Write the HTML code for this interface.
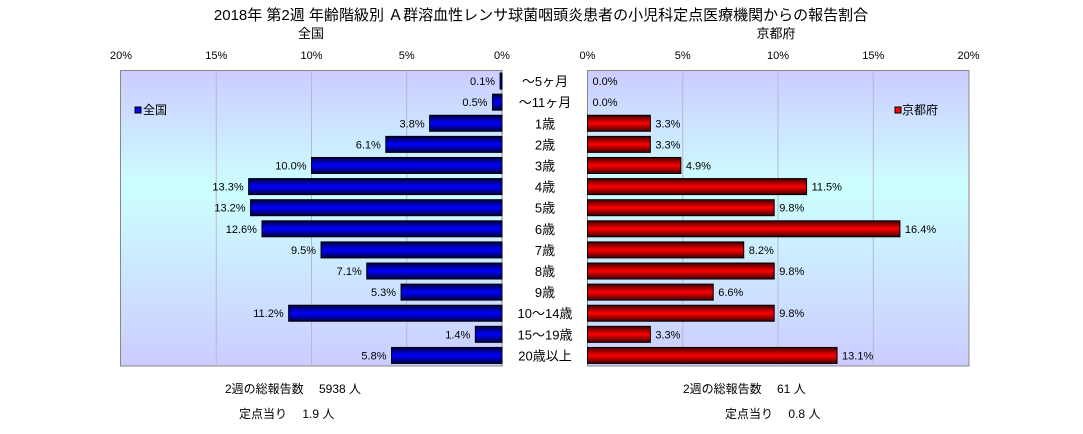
<!DOCTYPE html>
<html><head><meta charset="utf-8"><style>
body{margin:0;background:#fff;width:1083px;height:429px;overflow:hidden;font-family:"Liberation Sans","Noto Sans CJK JP",sans-serif;}
svg text{font-family:"Liberation Sans","Noto Sans CJK JP",sans-serif;}
</style></head><body>
<svg id="c" width="1083" height="429">
<defs>
<linearGradient id="bg" x1="0" y1="0" x2="0" y2="1">
<stop offset="0" stop-color="#ccccff"/><stop offset="0.4" stop-color="#ccffff"/><stop offset="1" stop-color="#ccccff"/></linearGradient>
<linearGradient id="gb" x1="0" y1="0" x2="0" y2="1">
<stop offset="0" stop-color="#000040"/><stop offset="0.5" stop-color="#0000ff"/><stop offset="1" stop-color="#000040"/></linearGradient>
<linearGradient id="gr" x1="0" y1="0" x2="0" y2="1">
<stop offset="0" stop-color="#400000"/><stop offset="0.5" stop-color="#ff0000"/><stop offset="1" stop-color="#400000"/></linearGradient>
</defs>
<text x="541" y="20" text-anchor="middle" font-size="15">2018年 第2週 年齢階級別 Ａ群溶血性レンサ球菌咽頭炎患者の小児科定点医療機関からの報告割合</text>
<text x="311" y="38" text-anchor="middle" font-size="13">全国</text>
<text x="776" y="38" text-anchor="middle" font-size="13">京都府</text>
<rect x="120.5" y="70.5" width="381.5" height="295.5" fill="url(#bg)" stroke="#888"/>
<rect x="587.5" y="70.5" width="381.5" height="295.5" fill="url(#bg)" stroke="#888"/>
<g id="grid"></g><g id="bars"></g><g id="labels"></g>
<rect x="135" y="107" width="6" height="6" fill="#0000ff" stroke="#000"/>
<text x="143" y="114" font-size="12">全国</text>
<rect x="895" y="107" width="6" height="6" fill="#ff0000" stroke="#000"/>
<text x="902" y="114" font-size="12">京都府</text>
<text x="225" y="393" font-size="12">2週の総報告数　 5938 人</text>
<text x="239" y="418" font-size="12">定点当り　 1.9 人</text>
<text x="683" y="393" font-size="12">2週の総報告数　 61 人</text>
<text x="725" y="418" font-size="12">定点当り　 0.8 人</text>
</svg>
<script>
const categories=["～5ヶ月","～11ヶ月","1歳","2歳","3歳","4歳","5歳","6歳","7歳","8歳","9歳","10～14歳","15～19歳","20歳以上"];
const nationalValues=[0.1,0.5,3.8,6.1,10.0,13.3,13.2,12.6,9.5,7.1,5.3,11.2,1.4,5.8];
const kyotoValues=[0.0,0.0,3.3,3.3,4.9,11.5,9.8,16.4,8.2,9.8,6.6,9.8,3.3,13.1];
const tickValues=[0,5,10,15,20];
const NS="http://www.w3.org/2000/svg";
const L0=502,R0=587.5,K=19.05,TOP=70.5,ROW=295.5/14,BH=16;
const xl=v=>L0-v*K, xr=v=>R0+v*K, yc=i=>TOP+ROW*(i+0.5);
function mk(tag,a,p){const e=document.createElementNS(NS,tag);for(const k in a)e.setAttribute(k,a[k]);document.getElementById(p).appendChild(e);return e;}
tickValues.forEach(t=>{
 if(t>0&&t<20){
  let g=mk('line',{x1:xl(t),x2:xl(t),y1:71,y2:366,stroke:'#b8b8c8'},'grid');
  
  
  g=mk('line',{x1:xr(t),x2:xr(t),y1:71,y2:366,stroke:'#b8b8c8'},'grid');
  
  
 }
 let a=mk('text',{x:xl(t),y:59,'text-anchor':'middle','font-size':11},'labels');a.textContent=t+'%';
 
 
 let b=mk('text',{x:xr(t),y:59,'text-anchor':'middle','font-size':11},'labels');b.textContent=t+'%';
 
 
});
categories.forEach((c,i)=>{
 const y=yc(i);
 const nv=nationalValues[i],kv=kyotoValues[i];
 let r=mk('rect',{x:xl(nv),y:y-BH/2,width:nv*K,height:BH,fill:'url(#gb)',stroke:'#000'},'bars');
 
 
 if(kv>0){r=mk('rect',{x:R0,y:y-BH/2,width:kv*K,height:BH,fill:'url(#gr)',stroke:'#000'},'bars');
 
 }
 let t=mk('text',{x:xl(nv)-5,y:y+4,'text-anchor':'end','font-size':11},'labels');t.textContent=nv.toFixed(1)+'%';
 
 
 t=mk('text',{x:xr(kv)+5,y:y+4,'font-size':11},'labels');t.textContent=kv.toFixed(1)+'%';
 
 
 t=mk('text',{x:545,y:y+5,'text-anchor':'middle','font-size':13},'labels');t.textContent=c;
 
 
});
</script>
</body></html>
